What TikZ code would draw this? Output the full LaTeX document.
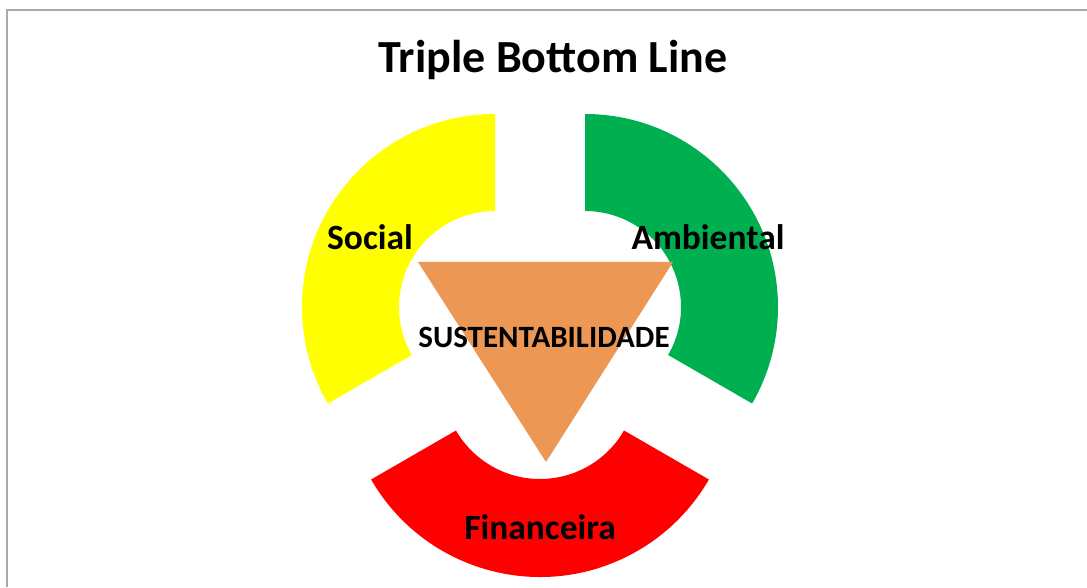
\documentclass[tikz,border=0pt]{standalone}
\usepackage{fontspec}
\setmainfont{Carlito}
\usetikzlibrary{calc}
\definecolor{tblyellow}{RGB}{255,255,0}
\definecolor{tblgreen}{RGB}{0,176,80}
\definecolor{tblred}{RGB}{255,0,0}
\definecolor{tblorange}{RGB}{236,152,84}
\definecolor{tblframe}{RGB}{170,170,170}
\tikzset{
    label/.style={anchor=base,inner sep=0pt,font=\bfseries\fontsize{35.5}{40}\selectfont},
    title/.style={anchor=base,inner sep=0pt,font=\bfseries\fontsize{46}{52}\selectfont}
}

\begin{document}
\begin{tikzpicture}[x=1pt,y=1pt]
\useasboundingbox (0,0) rectangle (1087,587);
\fill[white] (0,0) rectangle (1087,587);
\draw[tblframe,line width=2pt] (7,0) -- (7,577) -- (1087,577);

\coordinate (cs) at (495,280);
\coordinate (ca) at (585,280);
\coordinate (cf) at (540,205);

% the three arcs
\fill[tblyellow] ($(cs)+(90:193)$) arc[start angle=90,end angle=210,radius=193]
  -- ($(cs)+(210:96)$) arc[start angle=210,end angle=90,radius=96] -- cycle;
\fill[tblgreen] ($(ca)+(90:193)$) arc[start angle=90,end angle=-30,radius=193]
  -- ($(ca)+(-30:96)$) arc[start angle=-30,end angle=90,radius=96] -- cycle;
\fill[tblred] ($(cf)+(210:195)$) arc[start angle=210,end angle=330,radius=195]
  -- ($(cf)+(330:97)$) arc[start angle=330,end angle=210,radius=97] -- cycle;

\fill[tblorange] (418,325) -- (673,325) -- (546,125) -- cycle;

\node[title] (tit) at (553,514) {Triple Bottom Line};
\node[label] (soc) at (370,337) {Social};
\node[label] (amb) at (708,337) {Ambiental};
\node[label,font=\bfseries\fontsize{31}{34}\selectfont] (sus) at (544,239) {SUSTENTABILIDADE};
\node[label] (fin) at (540,48) {Financeira};
\end{tikzpicture}
\end{document}
